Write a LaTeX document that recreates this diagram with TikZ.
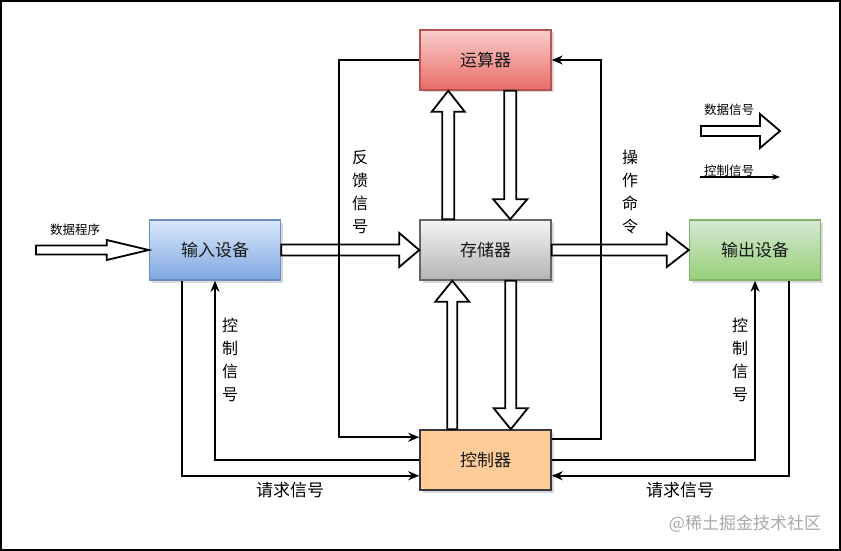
\documentclass[tikz,border=0pt]{standalone}
\usepackage{fontspec}
\setmainfont{Noto Sans CJK SC}
\usetikzlibrary{calc,arrows.meta,shadows}
\definecolor{redtop}{HTML}{F8CECC}\definecolor{redbot}{HTML}{EA6B66}\definecolor{redln}{HTML}{B85450}
\definecolor{bluetop}{HTML}{DAE8FC}\definecolor{bluebot}{HTML}{7EA6E0}\definecolor{blueln}{HTML}{6C8EBF}
\definecolor{graytop}{HTML}{F5F5F5}\definecolor{graybot}{HTML}{B3B3B3}\definecolor{grayln}{HTML}{666666}
\definecolor{greentop}{HTML}{D5E8D4}\definecolor{greenbot}{HTML}{97D077}\definecolor{greenln}{HTML}{82B366}
\definecolor{orangefill}{HTML}{FFCC99}\definecolor{orangeln}{HTML}{36393D}
\definecolor{wmark}{HTML}{A8A8A8}
\tikzset{
  box/.style={minimum width=131pt, minimum height=60pt, inner sep=0pt, line width=1.5pt,
    font=\fontsize{17}{17}\selectfont, text=black!90,
    drop shadow={shadow xshift=2.5pt, shadow yshift=-2.5pt, opacity=0.3}},
  blk/.style={draw=black, fill=white, line width=1.8pt, line join=miter},
  ctl/.style={draw=black, line width=1.8pt, -{Stealth[length=11pt,width=9pt]}},
  vlab/.style={align=center, font=\fontsize{16}{23}\selectfont, inner sep=0pt},
  hlab/.style={font=\fontsize{17}{17}\selectfont, inner sep=0pt},
  slab/.style={font=\fontsize{12.5}{12.5}\selectfont, inner sep=0pt}
}
\newcommand\blockarrow[5]{%
  \path let \p1=#1, \p2=#2,
    \n1={veclen(\x2-\x1,\y2-\y1)}, \n2={atan2(\y2-\y1,\x2-\x1)} in
    \pgfextra{\xdef\bkx{\x1}\xdef\bky{\y1}\xdef\bkl{\n1}\xdef\bka{\n2}};
  \begin{scope}[shift={(\bkx,\bky)},rotate=\bka]
    \draw[blk] (0pt,-#3pt) -- ({\bkl-#5},-#3pt) -- ({\bkl-#5},-#4pt) -- (\bkl,0pt)
      -- ({\bkl-#5},#4pt) -- ({\bkl-#5},#3pt) -- (0pt,#3pt) -- cycle;
  \end{scope}}
\begin{document}
\begin{tikzpicture}[x=1pt,y=-1pt]
\useasboundingbox (0,0) rectangle (841,551);
\draw[line width=2pt] (1,1) rectangle (840,550);

% boxes
\node[box, draw=redln, top color=redtop, bottom color=redbot] (alu) at (485.5,60) {运算器};
\node[box, draw=grayln, top color=graytop, bottom color=graybot] (mem) at (485.5,250) {存储器};
\node[box, draw=blueln, top color=bluetop, bottom color=bluebot] (inp) at (215,250) {输入设备};
\node[box, draw=greenln, top color=greentop, bottom color=greenbot] (outp) at (755,250) {输出设备};
\node[box, draw=orangeln, fill=orangefill] (ctrl) at (485.5,460) {控制器};

% coordinates for free ends
\coordinate (dsrc) at (36,250);
\coordinate (lgA) at (701,131);
\coordinate (lgB) at (780,131);
\coordinate (lgC) at (700,177);
\coordinate (lgD) at (780,177);

% block (data) arrows
\blockarrow{(dsrc)}{(inp.west)}{4.5}{10}{42}
\blockarrow{(inp.east)}{(mem.west)}{5.5}{17}{20}
\blockarrow{(mem.east)}{(outp.west)}{5.5}{17}{22}
\blockarrow{($(mem.north west)+(29,0)$)}{($(alu.south west)+(29,0)$)}{6}{16.5}{21}
\blockarrow{($(alu.south west)+(91,0)$)}{($(mem.north west)+(91,0)$)}{6}{17}{20}
\blockarrow{($(ctrl.north west)+(33,0)$)}{($(mem.south west)+(33,0)$)}{5}{17}{21}
\blockarrow{($(mem.south west)+(91.5,0)$)}{($(ctrl.north west)+(91.5,0)$)}{5.5}{17}{21}
\blockarrow{(lgA)}{(lgB)}{5}{17}{20}

% control lines
\draw[ctl] (alu.west) -- ++(-80,0) |- ($(ctrl.north west)+(0,8)$);
\draw[ctl] ($(ctrl.north east)+(0,10)$) -- ++(49,0) |- (alu.east);
\draw[ctl] ($(inp.south west)+(33,0)$) |- ($(ctrl.south west)+(0,-15)$);
\draw[ctl] (ctrl.west) -| (inp.south);
\draw[ctl] (ctrl.east) -| (outp.south);
\draw[ctl] ($(outp.south east)+(-32,0)$) |- ($(ctrl.south east)+(0,-15)$);
\draw[line width=1.2pt, -{Stealth[length=8pt,width=6pt]}] (lgC) -- (lgD);

% labels
\node[vlab] (l1) at (360,192) {反\\馈\\信\\号};
\node[vlab] (l2) at (630,192) {操\\作\\命\\令};
\node[vlab] (l3) at (230,360) {控\\制\\信\\号};
\node[vlab] (l4) at (740,360) {控\\制\\信\\号};
\node[hlab] (l5) at (290,490) {请求信号};
\node[hlab] (l6) at (680,490) {请求信号};
\node[slab] (l7) at (75,230) {数据程序};
\node[slab] (l8) at (729,110) {数据信号};
\node[slab] (l9) at (729,171) {控制信号};
\node[hlab, text=wmark] (wm) at (745,524) {@稀土掘金技术社区};
\end{tikzpicture}
\end{document}
